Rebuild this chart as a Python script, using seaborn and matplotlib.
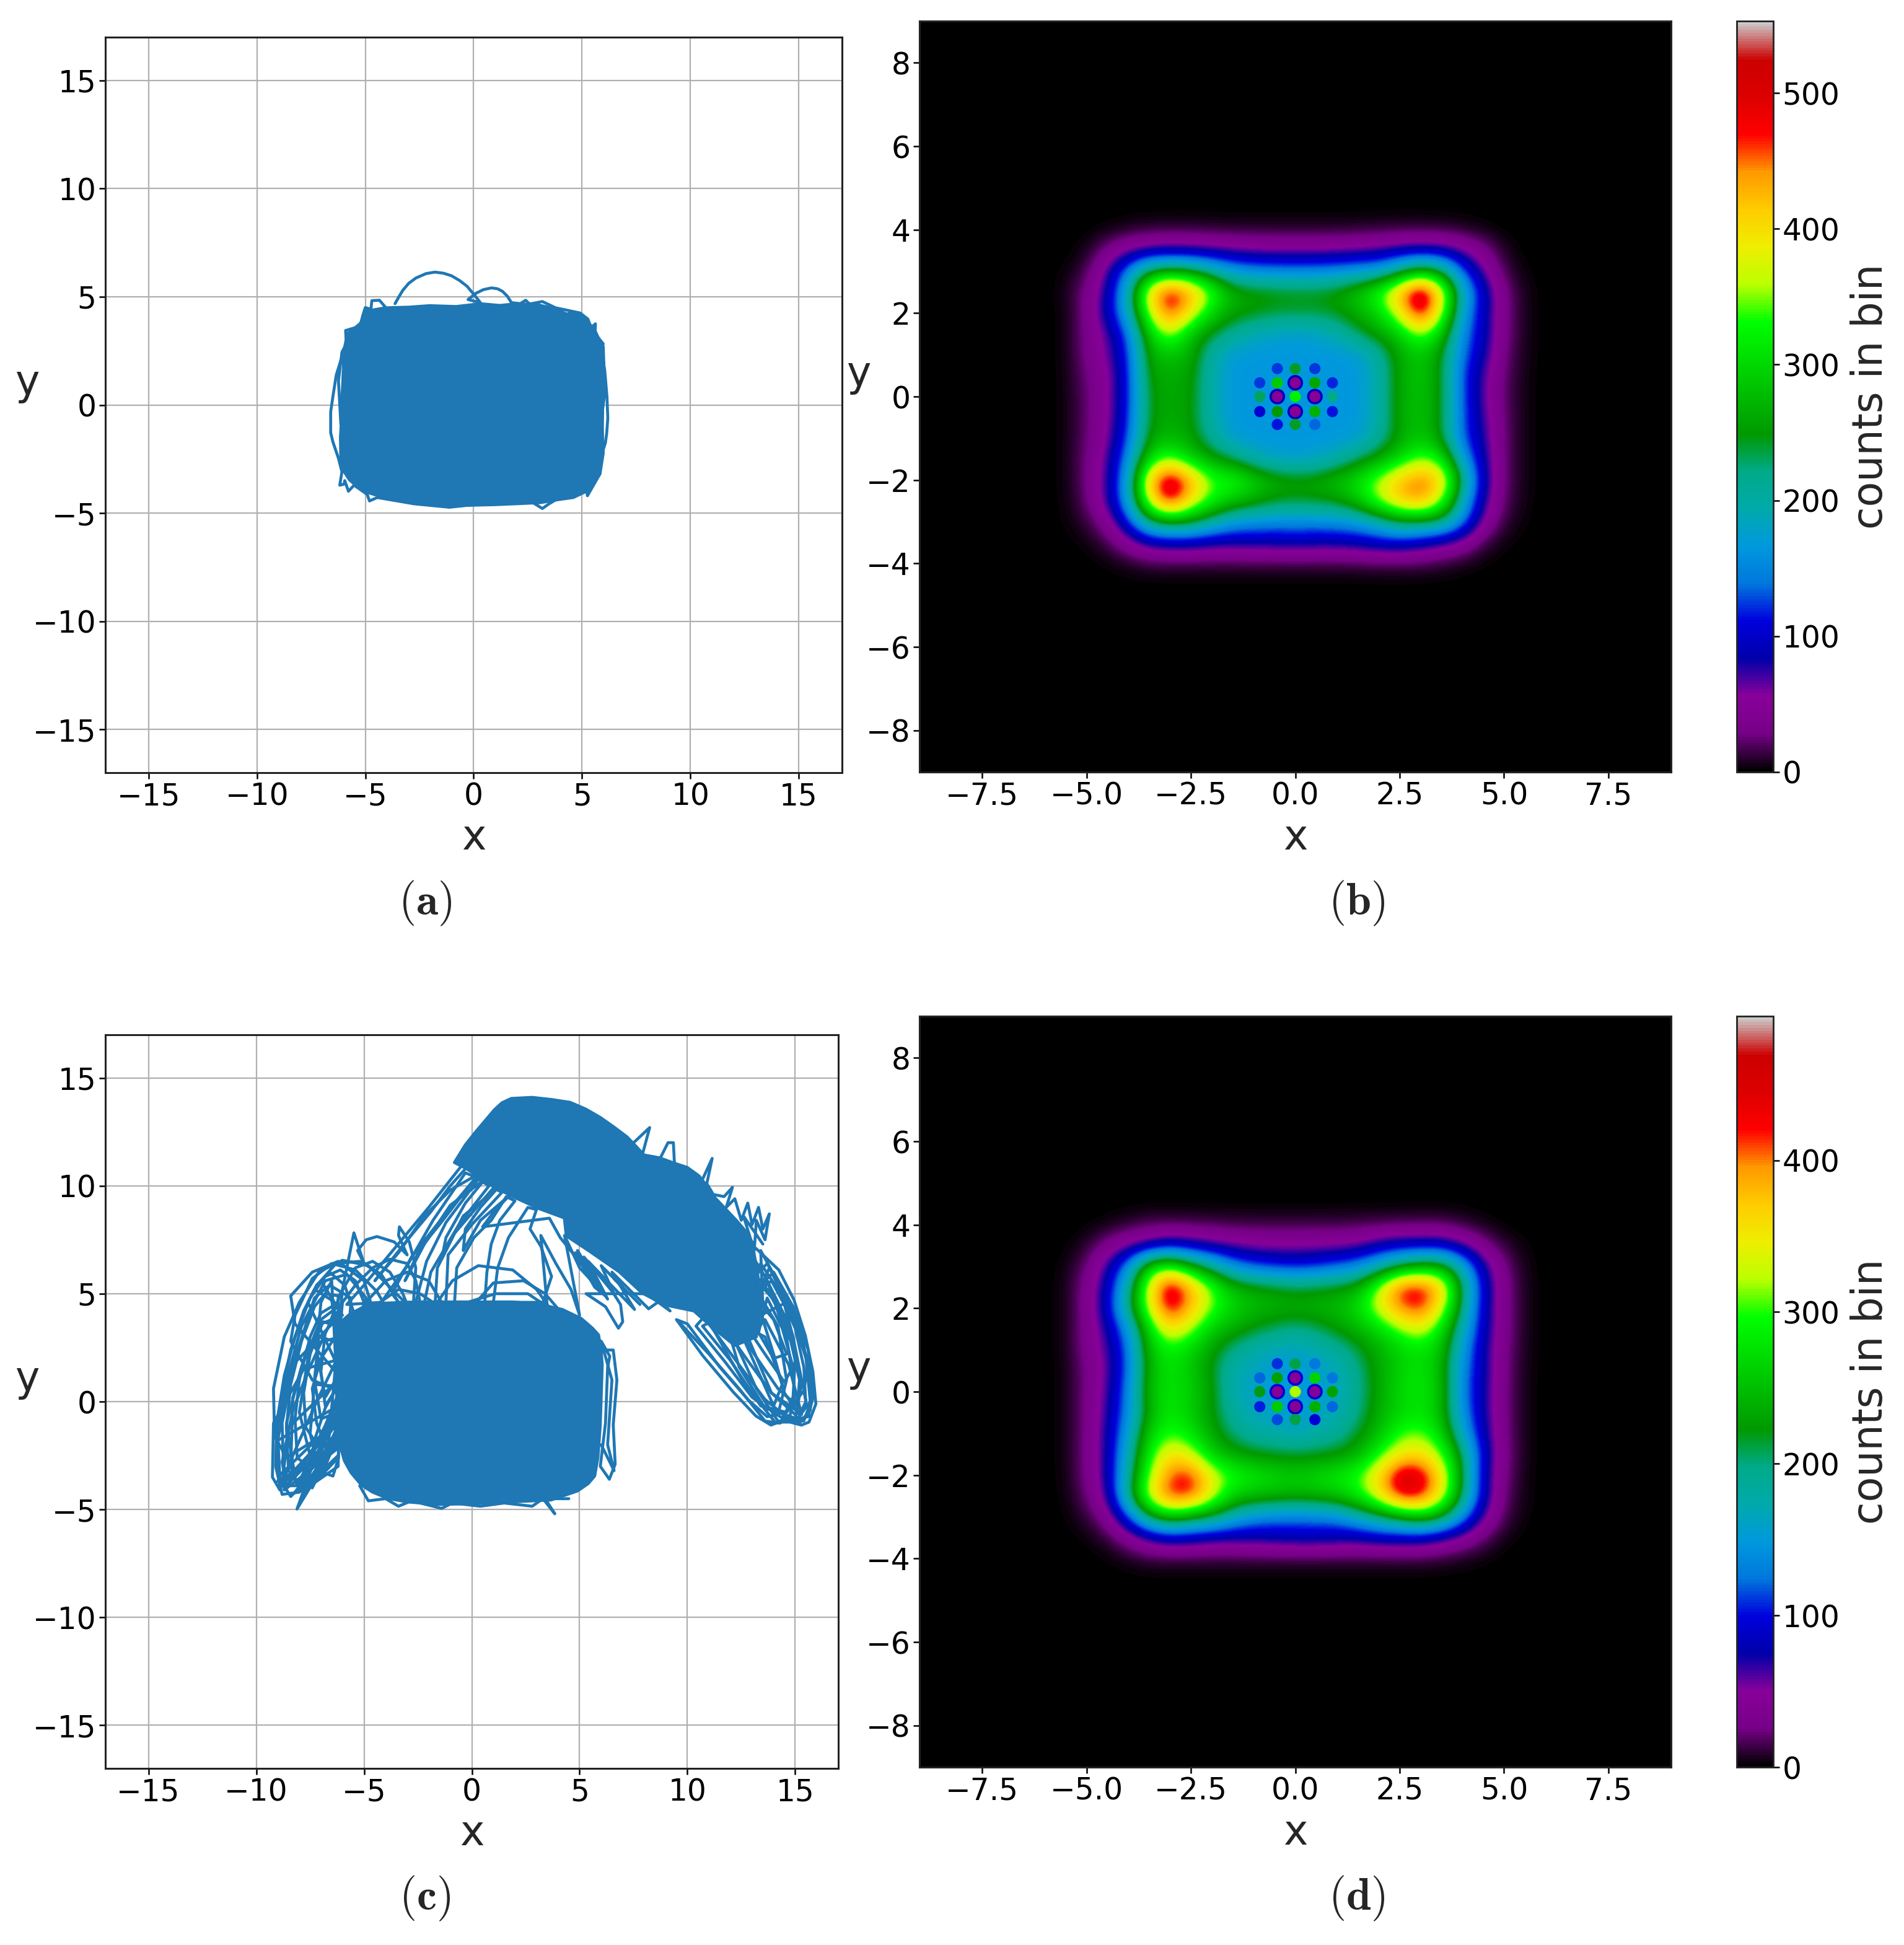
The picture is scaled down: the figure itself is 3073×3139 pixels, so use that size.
import numpy as np
import pandas as pd
import matplotlib
matplotlib.use('Agg')
import matplotlib.pyplot as plt
import seaborn as sns

FIG_W, FIG_H = 3073, 3139
LINE_COLOR = '#1f77b4'

# --- panel (a): solid part outline and the loops that stick out of it
a_outline = [(-5.11, 4.16), (-5.0, 4.5), (-4.65, 4.39), (-4.09, 4.49), (-3.0, 4.52), (-2.04, 4.59), (-0.8, 4.55), (0.31, 4.68), (1.2, 4.6), (2.04, 4.68),
             (3.0, 4.62), (3.78, 4.44), (4.3, 4.2), (4.6, 4.3), (5.0, 4.05), (5.32, 3.78), (5.62, 3.39), (5.88, 2.82), (5.95, 1.8), (5.98, 0.63),
             (5.92, -0.9), (5.98, -2.23), (5.83, -3.18), (5.55, -3.6), (5.21, -3.99), (4.6, -4.28), (3.9, -4.38), (3.07, -4.52), (1.02, -4.61),
             (-1.02, -4.66), (-2.1, -4.58), (-3.07, -4.47), (-4.1, -4.3), (-4.91, -4.04), (-5.4, -3.75), (-5.73, -3.47), (-6.0, -3.05), (-6.13, -2.71),
             (-6.15, -1.5), (-6.08, -0.32), (-6.02, 1.2), (-5.98, 2.54), (-5.83, 3.3), (-5.6, 3.45), (-5.21, 3.78)]
a_loops = [(-3.63, 4.68), (-3.45, 5.0), (-3.27, 5.3), (-3.0, 5.62), (-2.66, 5.87), (-2.2, 6.07), (-1.79, 6.14),
           (-1.4, 6.09), (-1.02, 5.97), (-0.65, 5.75), (-0.31, 5.49), (0.0, 5.12), (0.31, 4.73),
           (-0.26, 4.87), (0.1, 5.16), (0.45, 5.33), (0.82, 5.41), (1.1, 5.37), (1.33, 5.25), (1.55, 5.03), (1.74, 4.73),
           (2.15, 4.68), (2.4, 4.84), (2.56, 4.68), (2.66, 4.68), (3.17, 4.78), (3.78, 4.49),
           (4.91, 4.25), (5.27, 3.97), (5.42, 3.58), (5.62, 3.75), (5.6, 3.3),
           (5.98, 2.82), (5.88, 2.63), (6.05, 1.58), (6.15, 0.4), (6.19, -0.61), (6.14, -1.3), (6.08, -1.75), (5.93, -2.23),
           (5.98, 2.7), (6.05, 0.6), (5.88, -0.8), (5.2, -3.9), (5.25, -4.2), (5.83, -3.18),
           (3.48, -4.57), (3.17, -4.79), (2.66, -4.47), (0.0, -4.61), (-1.12, -4.73), (-2.76, -4.57),
           (-4.45, -4.28), (-4.81, -4.44), (-4.91, -4.14), (-5.52, -3.71), (-5.78, -3.99), (-5.95, -3.5),
           (-5.98, -3.66), (-6.18, -3.71), (-6.08, -3.09), (-6.24, -2.47), (-6.5, -1.7), (-6.6, -1.28),
           (-6.6, -0.32), (-6.48, 0.5), (-6.34, 1.39), (-6.15, 2.0), (-5.98, 2.44),
           (-6.13, -0.9), (-6.24, 1.11), (-6.08, 2.44), (-5.88, 2.82), (-5.91, 3.44), (-5.47, 3.57),
           (-5.27, 3.73), (-4.75, 4.35), (-4.7, 4.82), (-4.35, 4.84), (-4.09, 4.54)]

# --- panel (c): two solid parts and the loose loops
c_outline_low = [(-4.42, 4.55), (-2.48, 4.62), (1.92, 4.62), (3.2, 4.5), (4.2, 4.27), (5.08, 3.85), (5.6, 3.4), (5.88, 3.09), (6.0, 2.4), (6.05, 1.7),
                 (5.96, -1.08), (5.85, -2.6), (5.7, -3.45), (5.4, -3.8), (4.91, -4.14), (3.68, -4.56), (0.16, -4.73), (-1.6, -4.77),
                 (-3.0, -4.65), (-3.89, -4.49), (-4.6, -4.2), (-5.12, -3.87), (-5.6, -3.3), (-5.91, -2.75), (-6.15, -1.9), (-6.26, -1.08), (-6.26, 1.7), (-6.18, 3.5),
                 (-5.95, 3.8), (-5.65, 4.06), (-5.1, 4.35)]
c_outline_high = [(-0.81, 11.08), (-0.3, 11.9), (0.16, 12.48), (0.6, 13.0), (1.04, 13.52), (1.4, 13.85), (1.83, 14.05), (2.8, 14.1), (3.7, 14.0),
                  (4.56, 13.87), (5.3, 13.55), (5.96, 13.17), (6.6, 12.72), (7.2, 12.27), (7.6, 11.85), (7.99, 11.43), (8.7, 11.3),
                  (9.31, 11.08), (10.0, 10.85), (10.54, 10.46), (10.9, 10.0), (11.24, 9.49), (11.8, 8.9), (12.3, 8.37), (12.7, 7.9),
                  (13.0, 7.4), (13.27, 5.87), (13.4, 4.4), (13.2, 3.0), (12.2, 2.6), (11.2, 3.4), (10.3, 4.2),
                  (8.95, 4.48), (7.9, 5.03), (6.84, 6.01), (5.44, 6.98), (4.38, 7.68), (4.29, 8.51),
                  (3.15, 8.93), (1.92, 9.49), (0.86, 10.04), (0.16, 10.53), (-0.28, 10.81)]
c_left = [(-6, 4), (-7, 5.6), (-6.3, 6.4), (-5.2, 6.5), (-4.2, 5.9), (-3.4, 4.6),
          (-6, 1), (-8.2, 3.6), (-8.4, 4.9), (-7.4, 6), (-6.2, 6.5), (-5, 5.6), (-4.6, 4.3),
          (-6, -1), (-8.6, -2.6), (-9.15, -1.6), (-9.2, 0.6), (-8.7, 3), (-8, 4.6), (-7.1, 6), (-6, 6.55), (-4.8, 6.3), (-3.7, 5.2), (-3, 4.5),
          (-6, 2), (-7.8, 1.5), (-9.2, -1), (-9.25, -3.5), (-8.9, -4.1), (-8.3, -2.5), (-7.2, 0), (-6, 2.5),
          (-6.2, -1), (-8.9, -3.9), (-9.05, -2), (-8.6, 1), (-7.9, 3.5), (-6.8, 5.6), (-5.8, 5.9), (-4.9, 4.8),
          (-6, -2), (-8.7, -4.1), (-8.8, -1), (-8.2, 2), (-7.3, 4.8), (-6.6, 5.4), (-5.6, 4.8),
          (-6, -1.5), (-8.11, -4.98), (-7.4, -3), (-6.3, -0.5),
          (-6, 0), (-8.2, -3.5), (-8.6, -1), (-7.9, 1.6), (-7, 3.8), (-6.2, 4.4),
          (-6.1, 3), (-7.6, 2.6), (-8.3, 0.2), (-8.4, -3), (-8.1, -3.9), (-7, -1.6), (-6.1, 0.6),
          (-6.2, 1.6), (-7.6, 4.6), (-7.3, 5.2), (-6.5, 4.7), (-6.1, 2.2),
          (-6, -0.5), (-7.5, -2.5), (-8, -0.5), (-7.6, 2), (-6.9, 3.7), (-6.2, 3.5),
          (-6, -1), (-7.4, -4), (-6.9, -2), (-6.2, -0.8),
          (-6.1, 0.7), (-7.3, 0.8), (-7.5, -1.5), (-7, -3.5), (-6.4, -2), (-6, 1),
          (-6, 2.7), (-7.1, 3), (-7.3, 1), (-7, -0.8), (-6.2, -0.5),
          (-6.5, 5.6), (-7, 4.6), (-7.2, 2.4), (-6.8, 0.2), (-6.2, 1.2),
          (-6.2, 1), (-8.5, -1.2), (-8.8, -3.8), (-6.2, -2),
          (-6.1, 4), (-8.4, 1.6), (-9, -1.8), (-6.2, -0.2),
          (-6.18, -2.6), (-6.44, -3.45), (-6.88, -3.3), (-6.7, -2.48),
          (-6, 5.2), (-5.47, 7.82), (-5, 6.4), (-5.3, 7.0), (-4.9, 7.5), (-4.4, 7.65), (-3.6, 7.4), (-3.0, 6.8),
          (-3.4, 7.7), (-3.36, 8.1), (-2.9, 7.4), (-2.6, 6.2), (-2.7, 4.7)]
c_left_more = [(-6.2, -2.5), (-8, -4.2), (-8.8, -4.3), (-9.1, -3), (-9.05, -1), (-8.7, 1.2), (-8.2, 3), (-7.5, 4.8), (-6.8, 5.8), (-6.1, 6.1), (-5.4, 5.6), (-5, 4.6),
               (-6.2, -1.5), (-7.4, -3.4), (-8.4, -4.4), (-8.9, -3.6), (-9, -1.6), (-8.8, 0.4), (-8.4, 2.4), (-7.8, 4.2), (-7.2, 5.4), (-6.6, 6), (-5.9, 5.4), (-5.5, 4.2),
               (-6.2, -0.5), (-7.3, -2.6), (-8, -3.8), (-8.5, -3.2), (-8.6, -1.2), (-8.4, 0.8), (-7.9, 2.8), (-7.3, 4.4), (-6.8, 5), (-6.2, 4.9),
               (-6.1, 0.2), (-7, -1.5), (-7.6, -3), (-8.1, -2.6), (-8.2, -0.8), (-8, 1), (-7.5, 3), (-7, 4.1), (-6.5, 4.4), (-6.1, 3.7),
               (-6.1, 1), (-6.8, -0.3), (-7.3, -1.8), (-7.7, -1.2), (-7.8, 0.4), (-7.5, 2.2), (-7, 3.6), (-6.5, 3.8), (-6.1, 3),
               (-6.2, -3), (-7.5, -3.9), (-8.6, -3.9), (-8.8, -2.8), (-8.3, -0.4), (-7.6, 1.4), (-6.6, 3.6), (-6.1, 5), (-5.4, 6.2), (-4.6, 6.5), (-3.8, 6), (-3.2, 5), (-3, 4.5),
               (-6.2, 0.5), (-7.4, 1), (-8.4, 2.8), (-8.2, 4), (-7.4, 5.7), (-6.5, 6.4), (-5.4, 6.1), (-4.4, 5.1), (-4, 4.4),
               (-6.2, -2), (-9, -3.7), (-8.9, -3.4), (-6.2, -0.8), (-8.6, -3.9), (-6.2, -1.4), (-8.2, -4.2), (-6.2, -2.6), (-7.8, -4.3), (-6.3, -1.9),
               (-6.2, 3.2), (-7, 2), (-7.4, 0.6), (-7.2, -1), (-6.7, -2.2), (-6.3, -1.3),
               (-6.2, 4.2), (-6.8, 3.2), (-7, 1.4), (-6.8, -0.2), (-6.4, 0.4),
               (-6, 4.6), (-5.4, 5.4), (-4.6, 6.2), (-3.8, 6.6), (-3, 6.4), (-2.6, 5.6), (-2.4, 4.6),
               (-5, 4.5), (-4, 5.6), (-3, 6), (-2, 5.6), (-1.4, 4.6),
               (-4.4, 4.5), (-3.4, 5.2), (-2.4, 5), (-1.8, 4.6)]
c_arch = [(-0.5, 10.9), (-2, 9), (-3.5, 7.2), (-5, 5.4), (-5.8, 4.5),
          (-4.2, 4.6), (-3, 6.3), (-1.8, 8.4), (-0.3, 10.6),
          (0.2, 10.4), (-1.3, 8.6), (-2.8, 6.7), (-3.7, 5), (-3.4, 4.6),
          (-2.6, 4.6), (-2.1, 6.5), (-1.2, 8.3), (0.3, 10.3),
          (0.8, 10), (-0.6, 8.2), (-1.9, 6), (-2.2, 4.6),
          (-1.7, 4.6), (-1.6, 6.2), (-0.8, 7.8), (1, 9.9),
          (1.4, 9.7), (0, 8.2), (-1.1, 6.8), (-1.2, 4.6),
          (-0.8, 4.6), (-0.7, 6.2), (0.1, 7.6), (0.9, 8.4), (1.6, 9.5),
          (2, 9.3), (1.3, 8.4), (0.9, 7.3), (0.7, 6), (0.6, 4.6),
          (1, 4.6), (1.2, 6.2), (1.7, 7.6), (2.6, 9),
          (3, 8.9), (2.7, 8), (3.2, 7.2), (3.7, 5.8), (3.3, 4.6),
          (-1.6, 4.6), (-0.9, 5.6), (0.3, 6.3), (1.9, 6.1), (3, 5.2), (3.5, 4.5),
          (0.2, 4.6), (1, 5.5), (2.4, 5.6), (3.4, 5), (4, 4.3),
          (-0.2, 4.6), (1.1, 5.0), (2.6, 5.0), (3.5, 4.4),
          (3.2, 7.7), (3.9, 6.4), (4.6, 5.2), (5, 4),
          (4.3, 7.7), (5, 6.2), (6.2, 4.9), (5.7, 5.3), (4.8, 6.9), (6.3, 4.75),
          (5.4, 6.5), (7.55, 4.27), (6.5, 6), (8.2, 4.3), (8.9, 4.8), (7.4, 6), (9.2, 4.2), (8.1, 5),
          (5.3, 5), (6.2, 4.4), (6.8, 3.4), (7, 3.7), (6.9, 4.5), (6.2, 5.6)]
c_arch_more = [(-0.2, 10.9), (-1.0, 10.0), (-1.9, 8.8), (-2.9, 7.6), (-3.7, 6.6), (-4.5, 5.6),
               (-3.4, 6.9), (-2.2, 8.6), (-1.0, 9.8), (0.4, 10.6), (-0.5, 9.5), (-1.5, 8.2), (-2.4, 7.1), (-3.1, 5.6),
               (-2.2, 7.3), (-1.0, 9.1), (0.6, 10.3), (-0.3, 9.2), (-1.2, 7.6), (-1.4, 6.6),
               (-0.4, 8.6), (1.2, 9.9), (0.4, 9.0), (-0.3, 8.0), (-0.4, 7.0),
               (0.4, 8.4), (1.8, 9.6), (1.1, 8.9), (0.5, 8.1), (3.6, 8.5), (4.1, 7.6), (4.9, 6.6), (5.6, 5.6), (4.9, 7.0), (6.0, 5.2),
               (5.2, 6.7), (6.6, 5.0), (6.0, 6.3), (7.0, 5.3), (6.6, 5.7), (7.8, 4.5)]
c_lobe = [(13.18, 7.1), (14.24, 6.1), (14.95, 4.7), (15.47, 3.06), (15.82, 1.39), (15.96, -0.11), (15.64, -0.95),
          (15.29, -1.09), (14.76, -0.95), (14.23, -0.95), (13.88, -1.09), (13.18, -0.67), (12.12, 0.45), (10.72, 2.12), (9.49, 3.8),
          (10, 3.6), (11.5, 1.6), (12.8, 0.1), (13.7, -0.7), (14.2, -0.6), (14.6, 1), (14.2, 3.5), (13, 5.5),
          (12, 5), (12.2, 2.8), (13.2, 0.6), (14.2, -0.9), (15, -0.9), (15.3, 0.9), (14.8, 3.2), (13.7, 5.2), (12.9, 6.2),
          (11.4, 5), (12.4, 1.6), (13.6, -0.3), (15.1, -0.8), (15.7, 0), (15.5, 2), (14.9, 4), (13.8, 6.2),
          (13.2, 4.8), (11, 3.7), (12.6, 0.9), (14.1, -1), (15.6, -0.7), (15.9, 0.5), (15.2, 3.2), (13.9, 5.6),
          (12.6, 4.5), (10.7, 3.5), (12, 1.9), (13.4, -0.2), (14.6, -0.5), (15.4, 0.5), (15.6, 1.8), (14.6, 4.6),
          (13.4, 4), (12.8, 3), (13.9, 0.4), (14.9, -0.3), (15.3, -0.6), (14.7, 1.7), (13.6, 3.8),
          (12.7, 2.7), (14, -0.2), (14.4, 0.8), (13.6, 3), (12.4, 3.6)]
c_lobe_more = [(9.6, 3.7), (11, 2.2), (12.4, 0.6), (13.6, -0.9), (14.3, -1), (14.9, 0.2), (15, 2), (14.5, 4), (13.6, 5.8), (13.1, 6.6),
               (10.4, 3.5), (11.7, 1.9), (13, 0.2), (14.3, -0.7), (15.2, -1), (15.7, -0.4), (15.7, 1.2), (15.3, 3), (14.6, 4.8), (13.7, 6.4),
               (11, 3.6), (12.4, 1.7), (13.6, 0.1), (14.7, -0.8), (15.4, -0.9), (15.8, 0.2), (15.6, 2.4), (14.9, 4.4), (14, 6),
               (11.6, 3.6), (12.8, 1.9), (13.9, 0.4), (15, -0.6), (15.5, -0.2), (15.4, 1.6), (15, 3.4), (14.2, 5.2), (13.4, 6.4),
               (12.2, 3.6), (13.1, 2.2), (14.2, 0.6), (15.1, -0.2), (15.2, 1), (14.8, 2.8), (14.1, 4.6), (13.4, 5.4),
               (12.8, 3.4), (13.6, 2.2), (14.5, 0.9), (14.9, 1.6), (14.4, 3.4), (13.7, 4.8),
               (13.3, 3.2), (14, 2), (14.6, 2.2), (14, 3.8), (13.5, 4.4),
               (13.4, 7), (14, 5.9), (14.5, 4.5), (14.9, 3), (15.2, 1.5), (15.5, 0), (15.2, -0.6), (14.5, 0.4), (14, 2.2), (13.5, 3.8), (13.3, 5),
               (13.7, 5.6), (14.6, 3), (15, 0.4), (14.7, -0.9)]
c_ruffle = [(7.4, 11.9), (8.25, 12.7), (7.9, 11.4), (8.7, 11.2), (9.1, 12), (9.35, 12), (9.4, 11), (10.2, 10.6),
            (10.7, 10.3), (11.15, 11.27), (10.9, 10.1), (11.2, 9.6), (11.7, 9.5), (12.09, 9.93), (11.8, 9),
            (12.2, 9.4), (12.5, 8.4), (12.8, 9.2), (13, 8.2), (13.3, 9), (13.5, 8), (13.8, 8.7), (13.6, 7.5),
            (13.2, 8.4), (13.1, 7), (12.6, 8.6), (13.5, 7.3)]
c_right = [(5.96, 2.39), (6.56, 2.39), (6.73, 1), (6.56, -1.08), (6.65, -2.9), (6.38, -3.6), (5.96, -3), (6.2, -1),
           (6.3, 1.6), (6.4, 2.1), (6, 2.8), (6.5, 1), (6.3, -2), (6.6, -3.2), (6, -2)]
c_bottom = [(-5.2, -3.9), (-4.8, -4.6), (-4, -4.5), (-3.4, -4.85), (-2.8, -4.6), (-1.4, -4.95), (-0.9, -4.7), (0.4, -4.85),
            (1.5, -4.7), (2.8, -4.85), (3.3, -4.5), (3.85, -5.2), (3.4, -4.5), (4.5, -4.5)]

# --- panels (b) and (d): counts read on a 0.5 grid
grid_x = [-6, -5.5, -5, -4.5, -4, -3.5, -3, -2.5, -2, -1.5, -1, -0.5, 0, 0.5, 1, 1.5, 2, 2.5, 3, 3.5, 4, 4.5, 5, 5.5, 6]
grid_y = [5, 4.5, 4, 3.5, 3, 2.5, 2, 1.5, 1, 0.5, 0, -0.5, -1, -1.5, -2, -2.5, -3, -3.5, -4, -4.5, -5]
counts_b = [
    [0] * 25,
    [0] * 25,
    [0, 0, 0, 2, 6, 9, 10, 10, 9, 8, 8, 8, 8, 8, 8, 9, 10, 11, 11, 10, 7, 3, 0, 0, 0],
    [0, 0, 5, 30, 55, 70, 75, 72, 68, 62, 58, 56, 55, 56, 58, 62, 68, 78, 85, 80, 60, 35, 8, 0, 0],
    [0, 2, 15, 65, 150, 240, 260, 250, 210, 170, 155, 150, 150, 150, 155, 165, 170, 220, 270, 240, 130, 65, 15, 2, 0],
    [0, 5, 30, 80, 190, 400, 510, 440, 350, 270, 260, 255, 250, 250, 260, 290, 340, 430, 550, 400, 190, 100, 30, 5, 0],
    [0, 3, 30, 90, 180, 360, 480, 390, 300, 260, 250, 240, 240, 240, 245, 270, 300, 380, 510, 370, 170, 95, 30, 5, 0],
    [0, 3, 30, 65, 130, 290, 370, 280, 240, 210, 190, 175, 170, 175, 195, 230, 260, 290, 360, 290, 150, 95, 30, 5, 0],
    [0, 3, 30, 60, 115, 270, 285, 270, 200, 170, 165, 165, 165, 165, 165, 170, 205, 265, 290, 250, 140, 85, 25, 5, 0],
    [0, 3, 25, 50, 110, 260, 265, 260, 195, 165, 165, 165, 165, 165, 165, 165, 195, 265, 290, 250, 125, 70, 22, 4, 0],
    [0, 3, 22, 50, 110, 250, 265, 255, 195, 165, 165, 165, 165, 165, 165, 165, 195, 265, 285, 250, 130, 65, 20, 4, 0],
    [0, 3, 22, 50, 115, 250, 265, 255, 195, 165, 165, 165, 165, 165, 165, 165, 195, 265, 285, 250, 130, 72, 22, 4, 0],
    [0, 3, 22, 55, 125, 260, 275, 260, 210, 170, 165, 165, 165, 165, 165, 170, 205, 260, 290, 250, 130, 80, 22, 4, 0],
    [0, 3, 25, 65, 150, 300, 350, 290, 260, 230, 195, 175, 170, 175, 195, 230, 260, 300, 350, 320, 170, 85, 22, 4, 0],
    [0, 3, 25, 70, 170, 420, 530, 440, 340, 340, 300, 270, 260, 265, 285, 310, 360, 420, 460, 420, 230, 90, 22, 4, 0],
    [0, 2, 22, 70, 170, 380, 510, 400, 330, 290, 270, 250, 245, 250, 255, 290, 360, 420, 450, 360, 190, 80, 20, 3, 0],
    [0, 2, 12, 40, 115, 230, 260, 250, 210, 170, 160, 155, 155, 155, 160, 170, 200, 240, 240, 230, 150, 55, 12, 2, 0],
    [0, 0, 3, 15, 45, 80, 90, 90, 80, 80, 85, 85, 90, 85, 85, 90, 100, 105, 90, 70, 50, 15, 3, 0, 0],
    [0, 0, 0, 2, 6, 12, 12, 12, 12, 12, 12, 12, 12, 12, 12, 13, 15, 15, 14, 10, 5, 1, 0, 0, 0],
    [0] * 25,
    [0] * 25,
]
counts_d = [
    [0] * 25,
    [0] * 25,
    [0, 0, 0, 3, 8, 15, 15, 14, 13, 12, 12, 12, 12, 12, 12, 13, 14, 15, 16, 16, 10, 4, 0, 0, 0],
    [0, 0, 8, 30, 50, 65, 85, 75, 65, 55, 50, 48, 48, 50, 50, 55, 75, 85, 85, 85, 60, 30, 10, 2, 0],
    [0, 3, 20, 65, 135, 270, 300, 240, 190, 140, 115, 105, 100, 105, 120, 135, 170, 210, 240, 240, 165, 75, 25, 4, 0],
    [0, 4, 30, 80, 180, 340, 470, 390, 310, 250, 235, 225, 215, 220, 225, 240, 320, 430, 440, 380, 210, 90, 30, 5, 0],
    [0, 4, 30, 85, 195, 330, 450, 380, 310, 270, 250, 245, 240, 245, 250, 275, 335, 400, 430, 340, 200, 85, 30, 5, 0],
    [0, 4, 30, 70, 140, 270, 360, 320, 260, 240, 220, 205, 195, 205, 225, 245, 270, 310, 340, 280, 170, 85, 30, 5, 0],
    [0, 4, 30, 60, 120, 255, 290, 265, 230, 195, 175, 165, 160, 170, 185, 210, 240, 265, 280, 255, 150, 75, 28, 5, 0],
    [0, 3, 25, 55, 120, 245, 280, 260, 220, 175, 165, 150, 150, 155, 165, 195, 235, 265, 280, 250, 135, 80, 25, 4, 0],
    [0, 3, 25, 60, 130, 255, 280, 265, 230, 170, 160, 150, 150, 150, 165, 190, 235, 270, 285, 255, 130, 75, 25, 4, 0],
    [0, 3, 25, 65, 135, 240, 285, 260, 225, 185, 165, 155, 150, 160, 170, 195, 240, 265, 280, 250, 140, 75, 25, 4, 0],
    [0, 3, 25, 70, 150, 265, 300, 280, 235, 200, 180, 175, 165, 175, 185, 215, 250, 300, 310, 270, 160, 80, 25, 4, 0],
    [0, 3, 25, 70, 170, 285, 360, 330, 260, 235, 220, 215, 210, 215, 220, 240, 290, 345, 360, 310, 210, 90, 28, 4, 0],
    [0, 3, 25, 70, 180, 310, 410, 430, 340, 300, 285, 270, 265, 270, 285, 300, 360, 460, 450, 360, 220, 80, 25, 3, 0],
    [0, 2, 20, 60, 195, 340, 430, 430, 340, 270, 255, 250, 245, 250, 260, 290, 350, 440, 440, 350, 210, 85, 20, 3, 0],
    [0, 1, 10, 35, 110, 215, 260, 230, 215, 170, 140, 130, 125, 130, 135, 170, 200, 230, 260, 230, 140, 60, 15, 2, 0],
    [0, 0, 2, 10, 35, 65, 85, 80, 70, 70, 75, 80, 85, 85, 80, 75, 85, 85, 85, 65, 45, 20, 4, 0, 0],
    [0, 0, 0, 1, 5, 10, 10, 10, 10, 10, 10, 10, 10, 10, 10, 10, 10, 10, 10, 8, 5, 2, 0, 0, 0],
    [0] * 25,
    [0] * 25,
]

# small lattice of dots in the middle of both count maps (nan = no dot visible)
lattice_x = [-0.85, -0.43, 0, 0.47, 0.89]
lattice_y = [0.67, 0.33, 0, -0.36, -0.67]
lattice_b = [[np.nan, 125, 240, 125, np.nan],
             [125, 290, 50, 260, 120],
             [230, 50, 320, 50, 220],
             [105, 250, 50, 270, 115],
             [np.nan, 115, 240, 135, np.nan]]
lattice_d = [[np.nan, 110, 210, 125, np.nan],
             [120, 230, 45, 265, 125],
             [220, 45, 320, 45, 230],
             [105, 260, 45, 240, 120],
             [np.nan, 115, 210, 95, np.nan]]

vmax_b = 553
vmax_d = 495
cbar_ticks_b = [0, 100, 200, 300, 400, 500]
cbar_ticks_d = [0, 100, 200, 300, 400]
line_ticks = [-15, -10, -5, 0, 5, 10, 15]
map_xticks = [-7.5, -5.0, -2.5, 0.0, 2.5, 5.0, 7.5]
map_yticks = [-8, -6, -4, -2, 0, 2, 4, 6, 8]

sns.set_theme(style='ticks', rc={'font.family': ['DejaVu Sans'], 'mathtext.fontset': 'cm',
                                 'axes.edgecolor': '#222222', 'axes.linewidth': 2.2,
                                 'xtick.major.size': 7, 'ytick.major.size': 7,
                                 'xtick.major.width': 1.8, 'ytick.major.width': 1.8,
                                 'xtick.color': 'black', 'ytick.color': 'black'})
cmap = sns.color_palette('nipy_spectral', as_cmap=True)
TICK_SIZE = 35
LABEL_SIZE = 48
LINE_WIDTH = 3.4


def add_box(fig, left, top, right, bottom):
    # box given in pixels of the final picture
    return fig.add_axes([left / FIG_W, 1 - bottom / FIG_H, (right - left) / FIG_W, (bottom - top) / FIG_H])


def draw_trajectory(ax, outlines, traces, ylabel_x, xlabel_y):
    ax.set_axisbelow(True)
    ax.grid(True, color='#b0b0b0', linewidth=1.6)
    for outline in outlines:
        xs, ys = zip(*outline)
        ax.fill(xs, ys, color=LINE_COLOR, linewidth=LINE_WIDTH, joinstyle='round')
    for trace in traces:
        df = pd.DataFrame(trace, columns=['x', 'y'])
        sns.lineplot(data=df, x='x', y='y', sort=False, estimator=None, color=LINE_COLOR,
                     linewidth=LINE_WIDTH, solid_joinstyle='round', ax=ax)
    ax.set_xlim(-17, 17)
    ax.set_ylim(-17, 17)
    ax.set_xticks(line_ticks)
    ax.set_yticks(line_ticks)
    ax.tick_params(labelsize=TICK_SIZE)
    ax.set_xlabel('x', fontsize=LABEL_SIZE, va='center')
    ax.set_ylabel('y', fontsize=LABEL_SIZE, rotation=0, va='center', ha='center')
    ax.xaxis.set_label_coords(0.5, xlabel_y, transform=ax.transAxes)
    ax.yaxis.set_label_coords(ylabel_x, 0.53, transform=ax.transAxes)


def draw_counts(fig, ax, cax, counts, lattice, vmax, cbar_ticks):
    ax.set_facecolor(cmap(0))
    half = 0.25
    im = ax.imshow(np.array(counts, dtype=float), cmap=cmap, vmin=0, vmax=vmax, aspect='auto',
                   extent=[grid_x[0] - half, grid_x[-1] + half, grid_y[-1] - half, grid_y[0] + half],
                   interpolation='bicubic', interpolation_stage='data')
    # central dots, the dark ones have a blue rim
    lat_x, lat_y = np.meshgrid(lattice_x, lattice_y)
    values = np.array(lattice, dtype=float)
    dark = values < 70
    ax.scatter(lat_x[dark], lat_y[dark], c=np.full(dark.sum(), 95.0), cmap=cmap, vmin=0, vmax=vmax, s=330, linewidths=0)
    ok = ~np.isnan(values)
    ax.scatter(lat_x[ok], lat_y[ok], c=values[ok], cmap=cmap, vmin=0, vmax=vmax, s=170, linewidths=0)

    ax.set_xlim(-9, 9)
    ax.set_ylim(-9, 9)
    ax.set_xticks(map_xticks)
    ax.set_yticks(map_yticks)
    ax.tick_params(labelsize=TICK_SIZE)
    ax.set_xlabel('x', fontsize=LABEL_SIZE, va='center')
    ax.set_ylabel('y', fontsize=LABEL_SIZE, rotation=0, va='center', ha='center')
    ax.xaxis.set_label_coords(0.5, -0.0875, transform=ax.transAxes)
    ax.yaxis.set_label_coords(-0.081, 0.53, transform=ax.transAxes)

    cbar = fig.colorbar(im, cax=cax)
    cbar.set_ticks(cbar_ticks)
    cbar.ax.tick_params(labelsize=TICK_SIZE)
    cbar.outline.set_linewidth(2)
    cbar.set_label('counts in bin', fontsize=LABEL_SIZE)
    cbar.ax.yaxis.set_label_coords(3.1, 0.5, transform=cbar.ax.transAxes)


fig = plt.figure(figsize=(FIG_W / 100, FIG_H / 100), dpi=100, facecolor='white')

ax_a = add_box(fig, 170, 60, 1359, 1247)
ax_b = add_box(fig, 1484, 34, 2697, 1246)
cax_b = add_box(fig, 2803, 34, 2862, 1246)
ax_c = add_box(fig, 170, 1670, 1353, 2854)
ax_d = add_box(fig, 1484, 1640, 2697, 2852)
cax_d = add_box(fig, 2803, 1640, 2862, 2852)

draw_trajectory(ax_a, [a_outline], [a_loops], -0.106, -0.0885)
draw_trajectory(ax_c, [c_outline_low, c_outline_high],
                [c_left, c_left_more, c_arch, c_arch_more, c_lobe, c_lobe_more, c_ruffle, c_right, c_bottom],
                -0.107, -0.0885)
draw_counts(fig, ax_b, cax_b, counts_b, lattice_b, vmax_b, cbar_ticks_b)
draw_counts(fig, ax_d, cax_d, counts_d, lattice_d, vmax_d, cbar_ticks_d)

# panel letters
for letter, px, py in [('a', 686, 1458), ('b', 2190, 1458), ('c', 686, 3064), ('d', 2190, 3064)]:
    fig.text(px / FIG_W, 1 - py / FIG_H, r'$(\mathbf{%s})$' % letter, fontsize=52, ha='center', va='center')

fig.savefig('out.png', dpi=100)
